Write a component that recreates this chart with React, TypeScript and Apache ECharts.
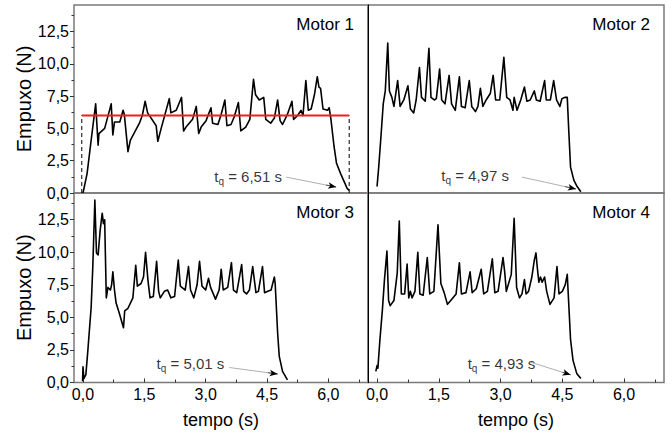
import React, { useEffect, useRef } from 'react';
import * as echarts from 'echarts';

// ---------- data ----------
const xTicks = [0, 1.5, 3, 4.5, 6];
const xMinorTicks = [0.75, 2.25, 3.75, 5.25, 6.75];
const yTicks = [0, 2.5, 5, 7.5, 10, 12.5];
const yMinorTicks = [1.25, 3.75, 6.25, 8.75, 11.25, 13.75];

const motorNames = ['Motor 1', 'Motor 2', 'Motor 3', 'Motor 4'];
const burnTimes = [6.51, 4.97, 5.01, 4.93];
const burnLabels = ['6,51', '4,97', '5,01', '4,93'];
const motor1Average = 6.0;

const motor1 = [
  [0, 0], [0.1, 1.5], [0.2, 4.1], [0.31, 6.9], [0.37, 3.7], [0.39, 4.6], [0.53, 5.0], [0.69, 6.9], [0.73, 4.5], [0.77, 5.5],
  [0.9, 5.5], [0.98, 6.4], [1.01, 6.1], [1.1, 3.2], [1.16, 4.1], [1.38, 5.4], [1.45, 6.0], [1.52, 7.1], [1.58, 6.2], [1.79, 5.2],
  [1.83, 4.0], [1.92, 5.1], [2.11, 7.3], [2.15, 6.2], [2.28, 6.4], [2.41, 7.4], [2.46, 4.8], [2.52, 5.1], [2.68, 5.7], [2.77, 6.7],
  [2.83, 4.6], [2.89, 5.1], [3.01, 5.6], [3.13, 6.6], [3.17, 5.4], [3.3, 5.3], [3.38, 6.1], [3.47, 7.2], [3.52, 5.2], [3.62, 5.3],
  [3.7, 5.9], [3.8, 7.0], [3.86, 4.8], [3.98, 5.1], [4.08, 5.7], [4.17, 8.8], [4.22, 7.6], [4.31, 7.2], [4.42, 7.4], [4.47, 5.7],
  [4.59, 5.4], [4.68, 5.8], [4.76, 7.2], [4.82, 5.6], [4.88, 5.3], [5.0, 6.1], [5.11, 7.1], [5.15, 5.7], [5.25, 6.0], [5.33, 6.4],
  [5.38, 6.0], [5.45, 8.7], [5.51, 6.4], [5.58, 6.5], [5.66, 7.6], [5.73, 9.0], [5.77, 8.2], [5.81, 8.1], [5.87, 6.5], [5.98, 6.4],
  [6.02, 6.6], [6.06, 5.8], [6.14, 3.6], [6.2, 2.3], [6.3, 1.5], [6.46, 0.36], [6.51, 0.2],
];

const motor2 = [
  [0, 0.5], [0.04, 2.0], [0.1, 4.6], [0.15, 6.9], [0.2, 7.9], [0.26, 11.6], [0.3, 7.9], [0.36, 7.4], [0.41, 6.7], [0.5, 8.7],
  [0.56, 6.7], [0.65, 7.2], [0.75, 8.3], [0.81, 6.5], [0.89, 6.2], [0.95, 7.2], [1.03, 9.7], [1.08, 7.4], [1.17, 7.1], [1.26, 11.2],
  [1.31, 7.4], [1.39, 7.2], [1.44, 7.3], [1.52, 9.6], [1.57, 7.2], [1.65, 6.9], [1.75, 9.1], [1.81, 6.9], [1.9, 6.4], [2.0, 9.0],
  [2.05, 6.7], [2.14, 6.6], [2.24, 8.7], [2.3, 6.7], [2.39, 6.3], [2.45, 6.7], [2.51, 8.1], [2.57, 6.7], [2.65, 7.2], [2.75, 7.7],
  [2.82, 9.1], [2.88, 7.2], [2.98, 7.2], [3.08, 10.5], [3.15, 7.4], [3.23, 7.2], [3.3, 6.4], [3.33, 7.4], [3.4, 6.4], [3.49, 7.2],
  [3.58, 8.2], [3.64, 7.1], [3.72, 7.2], [3.82, 7.9], [3.87, 7.2], [3.96, 7.1], [4.07, 8.7], [4.11, 7.2], [4.21, 7.2], [4.29, 8.7],
  [4.36, 7.2], [4.44, 6.7], [4.49, 7.3], [4.56, 7.4], [4.62, 7.4], [4.66, 4.6], [4.7, 2.0], [4.78, 1.0], [4.86, 0.5], [4.95, 0.1],
];

const motor3 = [
  [-0.01, 0.1], [0, 1.2], [0.02, 0.3], [0.07, 0.6], [0.12, 2.5], [0.2, 5.8], [0.24, 8.9], [0.29, 14.0], [0.33, 9.95], [0.37, 9.8],
  [0.42, 11.7], [0.47, 13.0], [0.5, 12.2], [0.53, 12.5], [0.57, 6.5], [0.61, 7.3], [0.67, 7.1], [0.7, 7.5], [0.73, 8.5], [0.77, 7.1],
  [0.81, 6.1], [0.89, 5.3], [0.99, 4.2], [1.02, 5.5], [1.1, 5.7], [1.22, 6.5], [1.29, 9.0], [1.33, 7.4], [1.42, 7.6], [1.48, 8.1],
  [1.53, 10.0], [1.59, 7.8], [1.64, 6.5], [1.72, 6.6], [1.8, 9.3], [1.85, 7.0], [1.89, 6.5], [1.99, 7.0], [2.07, 7.1], [2.15, 6.5],
  [2.24, 6.6], [2.33, 9.4], [2.38, 7.4], [2.5, 7.1], [2.58, 8.9], [2.63, 7.1], [2.71, 6.5], [2.79, 7.5], [2.85, 9.3], [2.91, 7.4],
  [3.0, 7.1], [3.07, 8.0], [3.12, 7.3], [3.24, 6.4], [3.33, 7.1], [3.38, 8.7], [3.43, 7.1], [3.54, 7.3], [3.63, 9.2], [3.68, 7.1],
  [3.76, 6.9], [3.88, 9.05], [3.93, 7.0], [4.0, 6.8], [4.07, 7.1], [4.15, 8.9], [4.19, 7.9], [4.23, 6.9], [4.29, 7.0], [4.39, 8.9],
  [4.44, 6.9], [4.52, 7.0], [4.6, 7.1], [4.68, 8.1], [4.7, 7.6], [4.76, 3.8], [4.8, 2.0], [4.88, 0.85], [5.0, 0.2],
];

const motor4 = [
  [-0.03, 0.85], [0, 1.3], [0.02, 1.1], [0.07, 3.3], [0.13, 5.6], [0.18, 7.9], [0.24, 10.1], [0.28, 6.3], [0.32, 5.9], [0.41, 6.3],
  [0.49, 8.4], [0.54, 12.4], [0.59, 6.8], [0.67, 6.8], [0.73, 9.1], [0.77, 6.5], [0.81, 7.0], [0.85, 6.5], [0.92, 7.0], [0.99, 10.0],
  [1.04, 6.8], [1.12, 6.7], [1.22, 9.6], [1.28, 6.8], [1.38, 7.0], [1.48, 12.1], [1.55, 7.6], [1.63, 6.9], [1.71, 6.0], [1.79, 6.3],
  [1.92, 6.8], [2.0, 9.2], [2.05, 6.8], [2.16, 6.9], [2.26, 8.5], [2.31, 6.9], [2.41, 7.2], [2.53, 8.7], [2.59, 6.8], [2.68, 7.0],
  [2.8, 9.5], [2.86, 6.9], [2.94, 7.0], [3.06, 9.6], [3.1, 8.5], [3.14, 7.0], [3.26, 8.3], [3.33, 12.6], [3.39, 7.3], [3.46, 6.5],
  [3.52, 6.8], [3.58, 7.9], [3.62, 6.8], [3.68, 7.0], [3.76, 8.1], [3.82, 9.4], [3.86, 9.95], [3.89, 8.9], [3.93, 7.7], [3.97, 8.1],
  [4.01, 7.7], [4.07, 8.1], [4.12, 7.0], [4.2, 6.0], [4.3, 6.5], [4.37, 8.9], [4.42, 6.8], [4.5, 7.0], [4.57, 7.5], [4.62, 8.3],
  [4.66, 5.8], [4.7, 3.3], [4.76, 1.7], [4.85, 0.7], [4.95, 0.3],
];

const motors = [motor1, motor2, motor3, motor4];

// annotation anchors (data coordinates)
const tqLabelAt = [[3.21, 1.3], [1.56, 1.39], [1.8, 1.49], [2.2, 1.49]];
const arrowFrom = [[4.97, 1.23], [3.52, 1.23], [3.58, 1.15], [3.72, 1.57]];
const arrowTo = [[6.19, 0.46], [4.83, 0.31], [4.76, 0.65], [4.7, 0.59]];

// ---------- layout ----------
const FONT = 'Arial';
const X_MIN = -0.22;
const X_MAX = 6.97;
const Y_MAX = 14.55;
const grids = [
  { left: 74, top: 5, width: 294, height: 188 },
  { left: 368, top: 5, width: 296, height: 188 },
  { left: 74, top: 193, width: 294, height: 189.5 },
  { left: 368, top: 193, width: 296, height: 189.5 },
];

const fmt = (v: number) => v.toFixed(1).replace('.', ',');

function buildOption() {
  const xAxis: any[] = [];
  const yAxis: any[] = [];
  const series: any[] = [];
  const graphic: any[] = [];

  grids.forEach((g, i) => {
    const isBottom = i >= 2;
    const isLeft = i % 2 === 0;
    xAxis.push({
      type: 'value', gridIndex: i, min: X_MIN, max: X_MAX, position: 'bottom',
      axisLine: { show: false, onZero: false },
      splitLine: { show: false },
      axisTick: { show: isBottom, inside: true, length: 4, customValues: xTicks, lineStyle: { color: '#333', width: 1 } },
      axisLabel: { show: isBottom, customValues: xTicks, formatter: fmt, fontSize: 16, color: '#000', margin: 4, fontFamily: FONT },
      name: isBottom ? 'tempo (s)' : '',
      nameLocation: 'middle', nameGap: 28,
      nameTextStyle: { fontSize: 18, color: '#000', fontFamily: FONT },
    });
    xAxis.push({
      type: 'value', gridIndex: i, min: X_MIN, max: X_MAX, position: 'bottom',
      axisLine: { show: false, onZero: false },
      splitLine: { show: false },
      axisTick: { show: isBottom, inside: true, length: 3, customValues: xMinorTicks, lineStyle: { color: '#333', width: 1 } },
      axisLabel: { show: false },
    });
    yAxis.push({
      type: 'value', gridIndex: i, min: 0, max: Y_MAX, position: 'left',
      axisLine: { show: !isLeft, onZero: false, lineStyle: { color: '#000', width: 1 } },
      splitLine: { show: false },
      axisTick: { show: isLeft, inside: false, length: 4, customValues: yTicks, lineStyle: { color: '#333', width: 1 } },
      axisLabel: { show: isLeft, customValues: yTicks, formatter: fmt, fontSize: 16, color: '#000', margin: 5, fontFamily: FONT },
      name: isLeft ? 'Empuxo (N)' : '',
      nameLocation: 'middle', nameGap: 38, nameRotate: 90,
      nameTextStyle: { fontSize: 20, color: '#000', fontFamily: FONT },
    });
    yAxis.push({
      type: 'value', gridIndex: i, min: 0, max: Y_MAX, position: 'left',
      axisLine: { show: false, onZero: false },
      splitLine: { show: false },
      axisTick: { show: isLeft, inside: false, length: 2.5, customValues: yMinorTicks, lineStyle: { color: '#333', width: 1 } },
      axisLabel: { show: false },
    });

    const xi = 2 * i;
    const yi = 2 * i;
    const tq = burnTimes[i];

    if (i === 0) {
      series.push({
        type: 'line', xAxisIndex: xi, yAxisIndex: yi, showSymbol: false, silent: true,
        data: [[-0.03, 0], [-0.03, motor1Average]],
        lineStyle: { color: '#000', width: 1, type: [4, 3] },
      });
      series.push({
        type: 'line', xAxisIndex: xi, yAxisIndex: yi, showSymbol: false, silent: true,
        data: [[tq, 0], [tq, motor1Average]],
        lineStyle: { color: '#000', width: 1, type: [4, 3] },
      });
    }

    series.push({
      type: 'line', xAxisIndex: xi, yAxisIndex: yi, showSymbol: false, silent: true,
      data: motors[i],
      lineStyle: { color: '#000', width: 1.6, join: 'round' },
    });

    if (i === 0) {
      series.push({
        type: 'line', xAxisIndex: xi, yAxisIndex: yi, showSymbol: false, silent: true,
        data: [[-0.03, motor1Average], [tq, motor1Average]],
        lineStyle: { color: '#e8211f', width: 2 },
      });
    }

    const from = arrowFrom[i];
    const to = arrowTo[i];
    const near = [from[0] + 0.8 * (to[0] - from[0]), from[1] + 0.8 * (to[1] - from[1])];
    series.push({
      type: 'scatter', xAxisIndex: xi, yAxisIndex: yi, silent: true,
      symbolSize: 0,
      itemStyle: { color: 'transparent' },
      data: [tqLabelAt[i]],
      label: {
        show: true, position: 'right', distance: 0,
        formatter: `{a|t}{s|q}{a| = ${burnLabels[i]} s}`,
        rich: {
          a: { fontSize: 15, color: '#000', fontFamily: FONT },
          s: { fontSize: 10, color: '#000', fontFamily: FONT, padding: [10, 0, 0, 0] },
        },
      },
      markLine: {
        silent: true, animation: false,
        symbol: ['none', 'none'],
        label: { show: false },
        data: [
          [
            { coord: from, lineStyle: { color: '#9a9a9a', width: 0.8, type: 'solid' } },
            { coord: to, lineStyle: { color: '#9a9a9a', width: 0.8, type: 'solid' } },
          ],
          [
            { coord: near, symbol: 'none', lineStyle: { color: '#000', width: 0.6, type: 'solid' } },
            { coord: to, symbol: 'arrow', symbolSize: [5, 8], lineStyle: { color: '#000', width: 0.6, type: 'solid' } },
          ],
        ],
      },
    });

    graphic.push({
      type: 'text',
      right: 672 - (g.left + g.width) + 14,
      top: g.top + 11,
      style: { text: motorNames[i], fill: '#000', font: `17px ${FONT}` },
      silent: true,
    });
  });

  return {
    animation: false,
    backgroundColor: '#fff',
    textStyle: { fontFamily: FONT },
    grid: grids.map((g) => ({ ...g, show: true, borderColor: '#7a7a7a', borderWidth: 1.5, backgroundColor: 'transparent' })),
    xAxis,
    yAxis,
    series,
    graphic,
  };
}

export default function App() {
  const ref = useRef<HTMLDivElement>(null);
  useEffect(() => {
    if (!ref.current) return;
    const chart = echarts.init(ref.current, undefined, { renderer: 'svg' });
    chart.setOption(buildOption() as any);
    return () => chart.dispose();
  }, []);
  return (
    <div
      ref={ref}
      style={{ position: 'fixed', left: 0, top: 0, width: 672, height: 433, background: '#fff' }}
    />
  );
}
